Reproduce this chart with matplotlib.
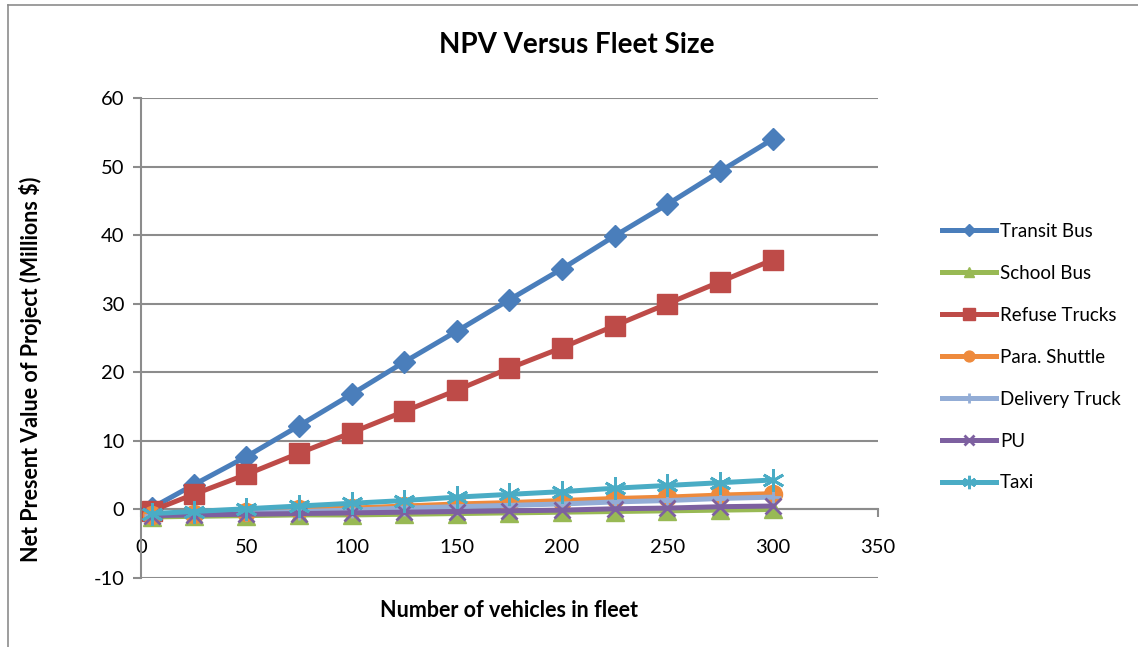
import matplotlib.pyplot as plt
from matplotlib.lines import Line2D

plt.rcParams['font.family'] = ['Lato', 'DejaVu Sans']
plt.rcParams['axes.unicode_minus'] = False

fleet = [5, 25, 50, 75, 100, 125, 150, 175, 200, 225, 250, 275, 300]
transit_bus = [0.2, 3.6, 7.7, 12.2, 16.8, 21.5, 26.0, 30.6, 35.1, 39.9, 44.5, 49.3, 54.0]
school_bus = [-1.1, -1.0, -0.9, -0.8, -0.8, -0.7, -0.6, -0.5, -0.4, -0.3, -0.2, -0.1, 0.0]
refuse_trucks = [-0.2, 2.2, 5.1, 8.2, 11.2, 14.3, 17.4, 20.6, 23.6, 26.8, 30.0, 33.2, 36.4]
para_shuttle = [-0.8, -0.6, -0.3, 0.0, 0.2, 0.5, 0.8, 1.0, 1.3, 1.6, 1.8, 2.1, 2.3]
delivery_truck = [-0.8, -0.7, -0.5, -0.3, -0.1, 0.2, 0.4, 0.6, 0.8, 1.1, 1.3, 1.6, 1.8]
pu = [-0.9, -0.8, -0.7, -0.6, -0.5, -0.4, -0.3, -0.2, -0.1, 0.1, 0.2, 0.4, 0.5]
taxi = [-0.6, -0.3, 0.1, 0.5, 0.9, 1.3, 1.8, 2.2, 2.6, 3.1, 3.5, 3.9, 4.3]

series = [
    ("Transit Bus", transit_bus, '#4A7EBB', 'D', 11),
    ("School Bus", school_bus, '#98B954', '^', 13),
    ("Refuse Trucks", refuse_trucks, '#BE4B48', 's', 14),
    ("Para. Shuttle", para_shuttle, '#EE8A3C', 'o', 13),
    ("Delivery Truck", delivery_truck, '#93ADD6', '+', 12),
    ("PU", pu, '#7D60A0', 'x', 12),
    ("Taxi", taxi, '#4AACC5', (6, 2, 0), 16),
]

fig = plt.figure(figsize=(11.38, 6.47), dpi=100)
ax = fig.add_axes([0.1239, 0.1066, 0.6476, 0.7419])

grid_c = '#8C8C8C'
for name, vals, col, mk, ms in series:
    ax.plot(fleet, vals, color=col, lw=3.6, marker=mk, markersize=ms,
            markeredgewidth=2 if mk in ('+', 'x', (6, 2, 0)) else 1,
            markeredgecolor=col, label=name, zorder=3)

ax.set_xlim(0, 350)
ax.set_ylim(-10, 60)
ax.set_xticks(range(0, 351, 50))
ax.set_yticks(range(-10, 61, 10))
ax.yaxis.grid(True, color=grid_c, lw=1.5)
ax.set_axisbelow(True)
for s in ['top', 'right']:
    ax.spines[s].set_visible(False)
ax.spines['left'].set_color(grid_c)
ax.spines['left'].set_linewidth(1.5)
ax.spines['bottom'].set_position(('data', 0))
ax.spines['bottom'].set_color(grid_c)
ax.spines['bottom'].set_linewidth(1.5)
ax.tick_params(axis='y', direction='out', length=6, width=1.5, color=grid_c,
               labelsize=14.5, pad=6)
ax.tick_params(axis='x', direction='out', length=6, width=1.5, color=grid_c,
               labelsize=14.5, pad=15)

fig.text(0.507, 0.930, "NPV Versus Fleet Size", fontsize=20, fontweight='bold',
         ha='center', va='center')
ax.set_xlabel("Number of vehicles in fleet", fontsize=15.5, fontweight='bold')
ax.xaxis.set_label_coords(0.5, -0.046)
ax.set_ylabel("Net Present Value of Project (Millions $)", fontsize=15.5,
              fontweight='bold')
ax.yaxis.set_label_coords(-0.134, 0.435)

fig.legend(loc='center left', bbox_to_anchor=(0.813, 0.448), frameon=False,
           fontsize=13.5, handlelength=2.9, labelspacing=1.33, handletextpad=0.2,
           markerscale=0.6)

# chart area border
fig.add_artist(Line2D([0.007, 0.007], [0.0, 0.992], color='#8C8C8C', lw=1.2,
                      transform=fig.transFigure))
fig.add_artist(Line2D([0.007, 1.0], [0.992, 0.992], color='#8C8C8C', lw=1.2,
                      transform=fig.transFigure))

fig.savefig('out.png', dpi=100)
